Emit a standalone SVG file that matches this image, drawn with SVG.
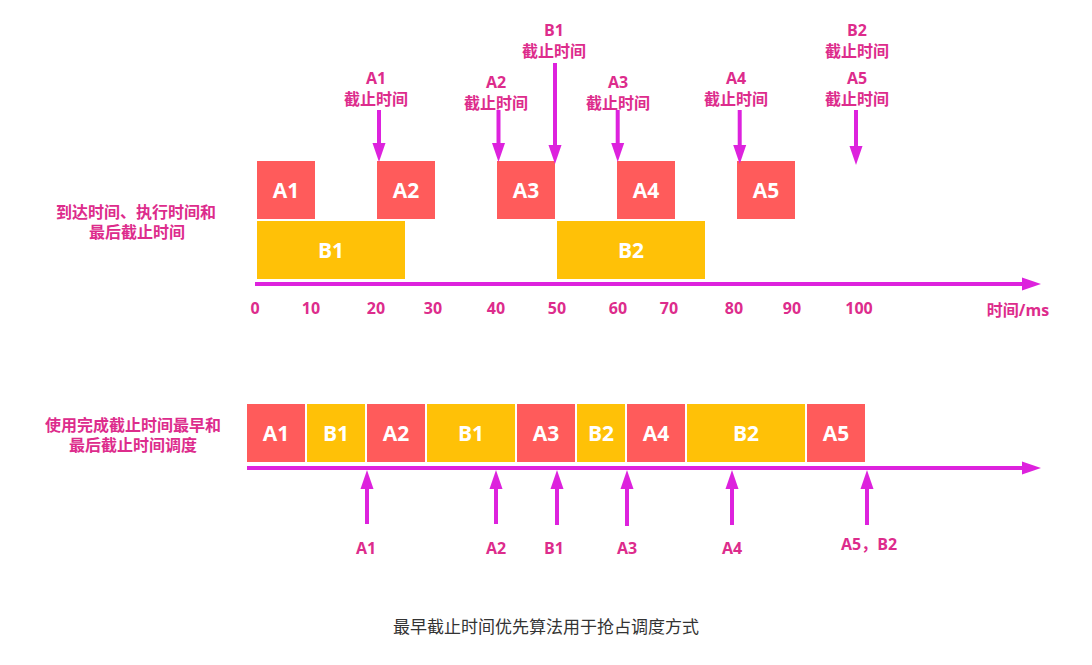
<svg xmlns="http://www.w3.org/2000/svg" width="1092" height="665" viewBox="0 0 1092 665">
<style>
.bg{fill:#ffffff}
.red{fill:#FF5B5B}
.yel{fill:#FFC107}
.box{font-family:"Open Sans","Noto Sans CJK SC",sans-serif;font-weight:bold;font-size:21px;fill:#ffffff;text-anchor:middle}
.lbl{font-family:"Open Sans","Noto Sans CJK SC",sans-serif;font-weight:bold;font-size:16px;fill:#DD2C8C;text-anchor:middle}
.tick{font-family:"Open Sans","Noto Sans CJK SC",sans-serif;font-weight:bold;font-size:16px;fill:#DD2C8C;text-anchor:middle}
.cap{font-family:"Noto Sans CJK SC","Open Sans",sans-serif;font-size:17px;fill:#333333;text-anchor:middle}
.arr{stroke:#DD22DD;stroke-width:4;fill:none;marker-end:url(#ah)}
</style>
<defs>
<marker id="ah" markerUnits="userSpaceOnUse" markerWidth="20" markerHeight="14" refX="0" refY="6.5" orient="auto" viewBox="0 0 20 13">
<path d="M0,0 L19,6.5 L0,13 z" fill="#DD22DD"/>
</marker>
</defs>
<rect class="bg" x="0" y="0" width="1092" height="665"/>

<g id="label-top-left">
<text class="lbl" x="136" y="218">到达时间、执行时间和</text>
<text class="lbl" x="137" y="238">最后截止时间</text>
</g>
<g id="label-bottom-left">
<text class="lbl" x="133" y="431">使用完成截止时间最早和</text>
<text class="lbl" x="133" y="451">最后截止时间调度</text>
</g>

<g id="top-A1"><rect class="red" x="257" y="161" width="58" height="58"/><text class="box" x="286" y="198">A1</text></g>
<g id="top-A2"><rect class="red" x="377" y="161" width="58" height="58"/><text class="box" x="406" y="198">A2</text></g>
<g id="top-A3"><rect class="red" x="497" y="161" width="58" height="58"/><text class="box" x="526" y="198">A3</text></g>
<g id="top-A4"><rect class="red" x="617" y="161" width="58" height="58"/><text class="box" x="646" y="198">A4</text></g>
<g id="top-A5"><rect class="red" x="737" y="161" width="58" height="58"/><text class="box" x="766" y="198">A5</text></g>
<g id="top-B1"><rect class="yel" x="257" y="221" width="148" height="58"/><text class="box" x="331" y="258">B1</text></g>
<g id="top-B2"><rect class="yel" x="557" y="221" width="148" height="58"/><text class="box" x="631" y="258">B2</text></g>

<g id="deadline-labels">
<text class="lbl" x="376" y="84">A1</text><text class="lbl" x="376" y="105">截止时间</text>
<text class="lbl" x="496" y="88">A2</text><text class="lbl" x="496" y="109">截止时间</text>
<text class="lbl" x="554" y="36">B1</text><text class="lbl" x="554" y="57">截止时间</text>
<text class="lbl" x="618" y="88">A3</text><text class="lbl" x="618" y="109">截止时间</text>
<text class="lbl" x="736" y="84">A4</text><text class="lbl" x="736" y="105">截止时间</text>
<text class="lbl" x="857" y="36">B2</text><text class="lbl" x="857" y="57">截止时间</text>
<text class="lbl" x="857" y="84">A5</text><text class="lbl" x="857" y="105">截止时间</text>
</g>

<g id="ticks">
<text class="tick" x="255" y="314">0</text>
<text class="tick" x="311" y="314">10</text>
<text class="tick" x="376" y="314">20</text>
<text class="tick" x="433" y="314">30</text>
<text class="tick" x="496" y="314">40</text>
<text class="tick" x="557" y="314">50</text>
<text class="tick" x="618" y="314">60</text>
<text class="tick" x="669" y="314">70</text>
<text class="tick" x="734" y="314">80</text>
<text class="tick" x="792" y="314">90</text>
<text class="tick" x="859" y="314">100</text>
<text class="tick" x="1018" y="316">时间/ms</text>
</g>

<g id="bottom-blocks">
<g id="b-A1"><rect class="red" x="247" y="404" width="58" height="58"/><text class="box" x="276" y="441">A1</text></g>
<g id="b-B1a"><rect class="yel" x="307" y="404" width="58" height="58"/><text class="box" x="336" y="441">B1</text></g>
<g id="b-A2"><rect class="red" x="367" y="404" width="58" height="58"/><text class="box" x="396" y="441">A2</text></g>
<g id="b-B1b"><rect class="yel" x="427" y="404" width="88" height="58"/><text class="box" x="471" y="441">B1</text></g>
<g id="b-A3"><rect class="red" x="517" y="404" width="58" height="58"/><text class="box" x="546" y="441">A3</text></g>
<g id="b-B2a"><rect class="yel" x="577" y="404" width="48" height="58"/><text class="box" x="601" y="441">B2</text></g>
<g id="b-A4"><rect class="red" x="627" y="404" width="58" height="58"/><text class="box" x="656" y="441">A4</text></g>
<g id="b-B2b"><rect class="yel" x="687" y="404" width="118" height="58"/><text class="box" x="746" y="441">B2</text></g>
<g id="b-A5"><rect class="red" x="807" y="404" width="58" height="58"/><text class="box" x="836" y="441">A5</text></g>
</g>

<g id="bottom-labels">
<text class="lbl" x="366" y="554">A1</text>
<text class="lbl" x="496" y="554">A2</text>
<text class="lbl" x="554" y="554">B1</text>
<text class="lbl" x="627" y="554">A3</text>
<text class="lbl" x="732" y="554">A4</text>
<text class="lbl" x="869" y="550">A5，B2</text>
</g>

<g id="connectors">
<line class="arr" x1="255" y1="284" x2="1022" y2="284"/>
<line class="arr" x1="247" y1="468" x2="1022" y2="468"/>
<line class="arr" x1="379" y1="110" x2="379" y2="143"/>
<line class="arr" x1="498.5" y1="110" x2="498.5" y2="143"/>
<line class="arr" x1="555" y1="63" x2="555" y2="145"/>
<line class="arr" x1="617.7" y1="110" x2="617.7" y2="143"/>
<line class="arr" x1="739.7" y1="110" x2="739.7" y2="145"/>
<line class="arr" x1="856" y1="110" x2="856" y2="146"/>
<line class="arr" x1="367" y1="524" x2="367" y2="489"/>
<line class="arr" x1="496" y1="524" x2="496" y2="489"/>
<line class="arr" x1="557" y1="525" x2="557" y2="489"/>
<line class="arr" x1="627" y1="526" x2="627" y2="489"/>
<line class="arr" x1="732" y1="525" x2="732" y2="489"/>
<line class="arr" x1="867" y1="525" x2="867" y2="489"/>
</g>

<g id="caption">
<text class="cap" x="546" y="633">最早截止时间优先算法用于抢占调度方式</text>
</g>
</svg>
